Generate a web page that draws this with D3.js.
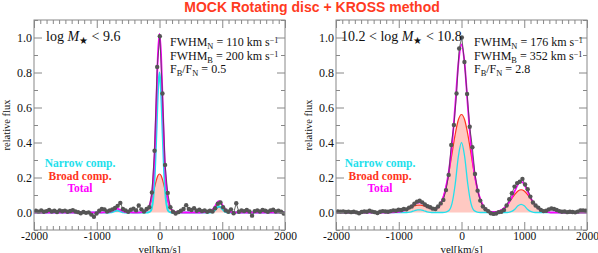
<!DOCTYPE html>
<html>
<head>
<meta charset="utf-8">
<script src="https://cdn.jsdelivr.net/npm/d3@7"></script>
<style>
  body { margin: 0; background: #fff; }
  svg text { font-family: "Liberation Serif", "DejaVu Serif", serif; }
</style>
</head>
<body>
<svg id="chart" width="598" height="253"></svg>
<script>
// observed spectra (shared velocity sampling)
const dataVel = [-1969,-1927,-1885,-1843,-1801,-1759,-1717,-1675,-1633,-1591,-1549,-1507,-1465,-1423,-1381,-1339,-1297,-1255,-1213,-1171,-1129,-1087,-1045,-1003,-961,-919,-877,-835,-793,-751,-709,-667,-625,-583,-541,-499,-457,-415,-373,-331,-289,-247,-205,-163,-121,-79,-37,5,47,89,131,173,215,257,299,341,383,425,467,509,551,593,635,677,719,761,803,845,887,929,971,1013,1055,1097,1139,1181,1223,1265,1307,1349,1391,1433,1475,1517,1559,1601,1643,1685,1727,1769,1811,1853,1895,1937,1979];

const fluxLow = [0.010,0.005,0.012,0.004,0.008,0.015,0.006,0.010,0.003,0.012,0.007,0.011,0.004,0.009,0.013,0.006,0.002,-0.004,0.003,-0.002,0.001,-0.012,-0.024,-0.006,0.010,0.020,0.018,0.006,0.012,0.018,0.026,0.038,0.055,0.020,0.012,0.004,0.016,0.022,0.012,0.040,0.018,0.006,0.020,0.030,0.114,0.353,0.832,1.007,0.680,0.272,0.112,0.030,0.004,-0.006,0.002,0.010,0.020,0.042,0.020,0.014,0.024,0.010,0.016,0.008,0.012,0.004,0.010,0.006,0.024,0.050,0.057,0.030,0.012,0.004,0.018,-0.004,0.053,0.004,0.012,0.008,0.014,0.006,-0.018,0.008,0.012,0.006,0.014,0.010,0.004,0.012,0.016,0.006,0.010,0.004,-0.006];

const fluxHigh = [0.006,0.004,0.006,0.003,0.005,0.002,0.004,0.001,-0.004,0.003,0.006,0.004,0.010,0.005,0.002,-0.003,0.004,0.008,0.006,0.004,0.008,0.012,0.010,0.016,0.014,0.020,0.018,0.028,0.034,0.050,0.062,0.067,0.058,0.046,0.036,0.030,0.022,0.020,0.034,0.052,0.072,0.128,0.215,0.386,0.500,0.680,0.937,1.000,0.860,0.677,0.490,0.373,0.220,0.125,0.068,0.034,0.019,0.008,-0.004,-0.008,-0.006,0.002,0.004,0.014,0.040,0.076,0.110,0.148,0.168,0.176,0.192,0.160,0.133,0.091,0.057,0.040,0.028,0.015,0.008,0.010,0.018,0.023,0.020,0.014,0.008,0.004,0.006,0.002,0.004,0.003,0.001,0.005,0.012,0.012,0.010];

// model components, log M < 9.6
const modelVelLow = [-2000,-1000,-925,-875,-825,-775,-725,-675,-625,-575,-525,-475,-425,-350,-250,-225,-200,-175,-150,-125,-100,-75,-50,-25,0,25,50,75,100,125,150,175,200,225,250,350,500,650,750,800,850,875,900,925,950,975,1000,1025,1050,1100,1150,1250,1500,2000];
const narrowLow = [0,0,0,0,0,0.001,0.007,0.012,0.007,0.001,0,0,0,0,0,0,0,0.001,0.005,0.022,0.081,0.220,0.451,0.693,0.800,0.693,0.451,0.220,0.081,0.022,0.005,0.001,0,0,0,0,0,0,0,0,0.004,0.010,0.020,0.030,0.035,0.030,0.020,0.010,0.004,0,0,0,0,0];
const broadLow = [0,0,0,0.001,0.002,0.005,0.008,0.010,0.008,0.005,0.002,0.001,0,0,0.003,0.007,0.014,0.026,0.046,0.075,0.110,0.149,0.185,0.211,0.220,0.211,0.185,0.149,0.110,0.075,0.046,0.026,0.014,0.007,0.003,0,0,0,0.002,0.006,0.015,0.020,0.025,0.029,0.030,0.029,0.025,0.020,0.015,0.006,0.002,0,0,0];
const totalLow = [0,0,0,0.001,0.002,0.006,0.015,0.022,0.015,0.006,0.002,0.001,0,0,0.003,0.007,0.014,0.027,0.051,0.097,0.191,0.369,0.636,0.904,1.020,0.904,0.636,0.369,0.191,0.097,0.051,0.027,0.014,0.007,0.003,0,0,0,0.002,0.006,0.019,0.030,0.045,0.059,0.065,0.059,0.045,0.030,0.019,0.006,0.002,0,0,0];

// model components, 10.2 < log M < 10.8
const modelVelHigh = [-2000,-1150,-1100,-1050,-1000,-950,-900,-850,-800,-750,-700,-650,-600,-550,-500,-450,-400,-350,-300,-250,-200,-150,-100,-50,0,50,100,150,200,250,300,350,400,450,500,550,600,650,700,750,800,850,900,950,1000,1050,1100,1150,1200,1250,1300,1350,1400,1450,1500,2000];
const narrowHigh = [0,0,0,0,0,0,0,0.001,0.004,0.010,0.015,0.015,0.010,0.004,0.001,0,0,0,0,0.002,0.011,0.053,0.163,0.320,0.400,0.320,0.163,0.053,0.011,0.002,0,0,0,0,0,0,0,0,0,0.001,0.006,0.019,0.038,0.047,0.038,0.019,0.006,0.001,0,0,0,0,0,0,0,0];
const broadHigh = [0,0,0.001,0.002,0.004,0.008,0.014,0.022,0.030,0.038,0.042,0.042,0.038,0.031,0.024,0.020,0.024,0.040,0.077,0.139,0.229,0.339,0.448,0.530,0.560,0.530,0.448,0.339,0.229,0.138,0.075,0.036,0.016,0.007,0.003,0.004,0.008,0.017,0.032,0.053,0.079,0.104,0.123,0.130,0.123,0.104,0.079,0.053,0.032,0.017,0.008,0.004,0.001,0,0,0];
const totalHigh = [0,0,0.001,0.002,0.004,0.008,0.014,0.023,0.034,0.048,0.057,0.057,0.048,0.035,0.025,0.020,0.024,0.040,0.077,0.141,0.240,0.392,0.611,0.850,0.960,0.850,0.611,0.392,0.240,0.140,0.075,0.036,0.016,0.007,0.003,0.004,0.008,0.017,0.032,0.054,0.085,0.123,0.161,0.177,0.161,0.123,0.085,0.054,0.032,0.017,0.008,0.004,0.001,0,0,0];

const xTicks = [-2000, -1000, 0, 1000, 2000];
const yTicks = [0, 0.2, 0.4, 0.6, 0.8, 1.0];
const legendLabels = ["Narrow comp.", "Broad comp.", "Total"];
const colors = { narrow: "#22e0ec", broad: "#ff3320", fill: "#ffc9c2", total: "#ff00ff", data: "#555" };

const panels = [
  { left: 34, flux: fluxLow, mv: modelVelLow, narrow: narrowLow, broad: broadLow, total: totalLow,
    mass: [["log ", ""], ["M", "it"], ["\u2605", "sub"], [" < 9.6", ""]], massX: 46,
    fwhmN: "110", fwhmB: "200", ratio: "0.5", legendX: 80, infoX: 170, narrowW: 2 },
  { left: 336, flux: fluxHigh, mv: modelVelHigh, narrow: narrowHigh, broad: broadHigh, total: totalHigh,
    mass: [["10.2 < log ", ""], ["M", "it"], ["\u2605", "sub"], [" < 10.8", ""]], massX: 341,
    fwhmN: "176", fwhmB: "352", ratio: "2.8", legendX: 380, infoX: 474, narrowW: 1.3 }
];

const W = 251, plotTop = 20, plotBottom = 230;
const svg = d3.select("#chart");

svg.append("text")
  .attr("x", 312).attr("y", 12)
  .attr("text-anchor", "middle")
  .style("font-family", "'Liberation Sans', Arial, sans-serif")
  .style("font-weight", "bold").style("font-size", "14px")
  .attr("fill", "#ff3b1f")
  .text("MOCK Rotating disc + KROSS method");

function richText(g, x, y, size, parts) {
  const t = g.append("text").attr("x", x).attr("y", y).style("font-size", size + "px").attr("fill", "#111");
  parts.forEach(([s, kind]) => {
    const ts = t.append("tspan").text(s);
    if (kind === "it") ts.style("font-style", "italic");
    if (kind === "sub") ts.attr("baseline-shift", "-2.5").style("font-size", (size * 0.7) + "px");
    if (kind === "sup") ts.attr("baseline-shift", "3.5").style("font-size", (size * 0.68) + "px");
  });
  return t;
}

panels.forEach((p, i) => {
  const x = d3.scaleLinear().domain([-2000, 2000]).range([p.left, p.left + W]);
  const y = d3.scaleLinear().domain([-0.1, 1.1]).range([plotBottom, plotTop]);
  const g = svg.append("g");

  const clipId = "clip" + i;
  svg.append("clipPath").attr("id", clipId).append("rect")
    .attr("x", p.left).attr("y", plotTop).attr("width", W).attr("height", plotBottom - plotTop);
  const plot = g.append("g").attr("clip-path", `url(#${clipId})`);

  const broadPts = p.mv.map((v, k) => [v, p.broad[k]]);
  plot.append("path")
    .attr("d", d3.area().x(d => x(d[0])).y0(y(0)).y1(d => y(d[1])).curve(d3.curveMonotoneX)(broadPts))
    .attr("fill", colors.fill);

  const line = d3.line().x(d => x(d[0])).y(d => y(d[1])).curve(d3.curveMonotoneX);
  plot.append("path").attr("d", line(broadPts))
    .attr("fill", "none").attr("stroke", colors.broad).attr("stroke-width", 1.2);
  plot.append("path").attr("d", line(p.mv.map((v, k) => [v, p.narrow[k]])))
    .attr("fill", "none").attr("stroke", colors.narrow).attr("stroke-width", p.narrowW);
  plot.append("path").attr("d", line(p.mv.map((v, k) => [v, p.total[k]])))
    .attr("fill", "none").attr("stroke", colors.total).attr("stroke-width", 1.8);

  const obs = dataVel.map((v, k) => [v, p.flux[k]]);
  plot.append("path")
    .attr("d", d3.line().x(d => x(d[0])).y(d => y(d[1]))(obs))
    .attr("fill", "none").attr("stroke", "#444").attr("stroke-width", 0.8);
  plot.selectAll("circle").data(obs).enter().append("circle")
    .attr("cx", d => x(d[0])).attr("cy", d => y(d[1])).attr("r", 2.2)
    .attr("fill", colors.data);

  // axes: inward ticks on all four sides
  const minorX = d3.range(-2000, 2001, 100).filter(v => v % 1000 !== 0);
  const minorY = [-0.1, 0.1, 0.3, 0.5, 0.7, 0.9, 1.1];
  const axes = [
    [d3.axisBottom(x).tickValues(xTicks).tickSize(-8).tickFormat(d => String(d)), `translate(0,${plotBottom})`, "11.5px"],
    [d3.axisBottom(x).tickValues(minorX).tickSize(-4).tickFormat(""), `translate(0,${plotBottom})`, null],
    [d3.axisTop(x).tickValues(xTicks).tickSize(-8).tickFormat(""), `translate(0,${plotTop})`, null],
    [d3.axisTop(x).tickValues(minorX).tickSize(-4).tickFormat(""), `translate(0,${plotTop})`, null],
    [d3.axisLeft(y).tickValues(yTicks).tickSize(-8).tickFormat(d3.format(".1f")), `translate(${p.left},0)`, "12px"],
    [d3.axisLeft(y).tickValues(minorY).tickSize(-4).tickFormat(""), `translate(${p.left},0)`, null],
    [d3.axisRight(y).tickValues(yTicks).tickSize(-8).tickFormat(""), `translate(${p.left + W},0)`, null],
    [d3.axisRight(y).tickValues(minorY).tickSize(-4).tickFormat(""), `translate(${p.left + W},0)`, null]
  ];
  axes.forEach(([ax, tr, labelSize]) => {
    const a = g.append("g").attr("transform", tr).call(ax.tickPadding(labelSize ? 2 : 0));
    a.select(".domain").remove();
    a.selectAll("line").attr("stroke", "#888");
    a.selectAll("text").style("font-family", "'Liberation Serif', serif")
      .style("font-size", labelSize).attr("fill", "#111");
  });

  g.append("rect").attr("x", p.left).attr("y", plotTop).attr("width", W).attr("height", plotBottom - plotTop)
    .attr("fill", "none").attr("stroke", "#888").attr("stroke-width", 1);

  g.append("text").attr("x", p.left + W / 2).attr("y", 252.5)
    .attr("text-anchor", "middle").style("font-size", "11px").attr("fill", "#111").text("vel[km/s]");
  g.append("text").attr("transform", `translate(${p.left - 24},125) rotate(-90)`)
    .attr("text-anchor", "middle").style("font-size", "10.5px").attr("fill", "#111").text("relative flux");

  richText(g, p.massX, 41, 14, p.mass);
  richText(g, p.infoX, 45.5, 12, [["FWHM", ""], ["N", "sub"], [" = " + p.fwhmN + " km s", ""], ["\u22121", "sup"]]);
  richText(g, p.infoX, 59.5, 12, [["FWHM", ""], ["B", "sub"], [" = " + p.fwhmB + " km s", ""], ["\u22121", "sup"]]);
  richText(g, p.infoX, 73, 12, [["F", ""], ["B", "sub"], ["/F", ""], ["N", "sub"], [" = " + p.ratio, ""]]);

  const legendColors = [colors.narrow, colors.broad, colors.total];
  legendLabels.forEach((lab, k) => {
    g.append("text").attr("x", p.legendX).attr("y", 167 + k * 12.5)
      .attr("text-anchor", "middle").style("font-size", "11.5px").style("font-weight", "bold")
      .attr("fill", legendColors[k]).text(lab);
  });
});
</script>
</body>
</html>
